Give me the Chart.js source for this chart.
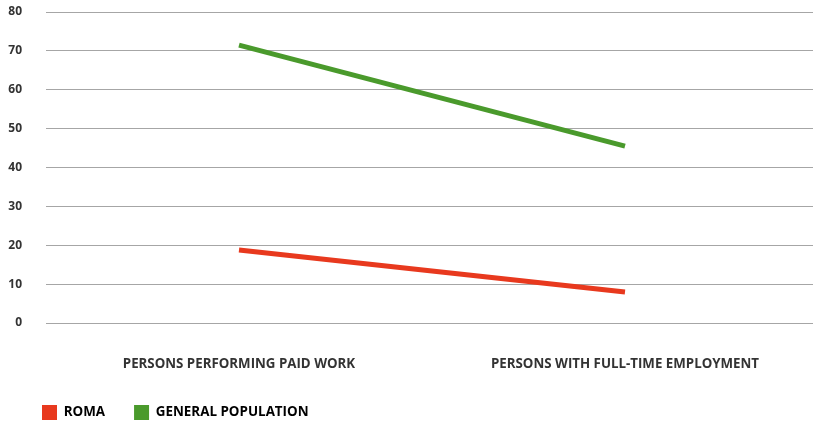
<!DOCTYPE html>
<html lang="en">
<head>
<meta charset="UTF-8">
<title>Roma vs general population</title>
<script src="https://cdn.jsdelivr.net/npm/chart.js"></script>
<style>
  html, body { margin: 0; padding: 0; background: #fff; overflow: hidden; }
  #wrap { width: 813px; height: 424px; overflow: hidden; }
</style>
</head>
<body>
<div id="wrap">
  <canvas id="myChart" width="818" height="430" style="width:818px;height:430px"></canvas>
</div>
<script>
  // dados
  const categories = ['PERSONS PERFORMING PAID WORK', 'PERSONS WITH FULL-TIME EMPLOYMENT'];
  const roma = [18.8, 8.0];
  const generalPopulation = [71.5, 45.5];
  const yTicks = [0, 10, 20, 30, 40, 50, 60, 70, 80];

  const textColor = '#333333';
  const fontFamily = "'Open Sans', sans-serif";

  // desloca a legenda um pouco para a direita
  const legendShift = {
    id: 'legendShift',
    afterLayout: (chart) => {
      if (chart.legend) chart.legend.left = 13;
    }
  };

  const ctx = document.getElementById('myChart').getContext('2d');
  new Chart(ctx, {
    type: 'line',
    data: {
      labels: categories,
      datasets: [
        {
          label: 'ROMA',
          data: roma,
          borderColor: '#e8391e',
          backgroundColor: '#e8391e',
          borderWidth: 5,
          pointRadius: 0,
          borderCapStyle: 'butt',
          fill: false
        },
        {
          label: 'GENERAL POPULATION',
          data: generalPopulation,
          borderColor: '#4a9a2c',
          backgroundColor: '#4a9a2c',
          borderWidth: 5,
          pointRadius: 0,
          borderCapStyle: 'butt',
          fill: false
        }
      ]
    },
    options: {
      responsive: false,
      animation: false,
      layout: { padding: { left: 0, top: 12, right: 0, bottom: 0 } },
      plugins: {
        tooltip: { enabled: false },
        legend: {
          position: 'bottom',
          align: 'start',
          labels: {
            boxWidth: 15,
            boxHeight: 15,
            padding: 29,
            color: textColor,
            font: { family: fontFamily, size: 13.4, weight: 'bold' },
            generateLabels: (chart) => chart.data.datasets.map((ds, i) => ({
              text: ds.label,
              fillStyle: ds.borderColor,
              strokeStyle: ds.borderColor,
              lineWidth: 0,
              datasetIndex: i
            }))
          }
        }
      },
      scales: {
        x: {
          offset: true,
          grid: { display: false, drawTicks: false },
          border: { display: false },
          ticks: {
            padding: 33,
            maxRotation: 0,
            color: textColor,
            font: { family: fontFamily, size: 13.3, weight: 'bold' }
          },
          afterFit: (scale) => { scale.height = 53; }
        },
        y: {
          min: 0,
          max: 80,
          afterBuildTicks: (scale) => { scale.ticks = yTicks.map(v => ({ value: v })); },
          grid: { color: '#a6a6a6', lineWidth: 1, drawTicks: false },
          border: { display: false },
          ticks: {
            padding: 24,
            color: textColor,
            font: { family: fontFamily, size: 12, weight: 'bold' }
          },
          afterFit: (scale) => {
            scale.width = 46;
            scale.paddingTop = 0;
            scale.paddingBottom = 0;
          }
        }
      }
    },
    plugins: [legendShift]
  });
</script>
</body>
</html>
